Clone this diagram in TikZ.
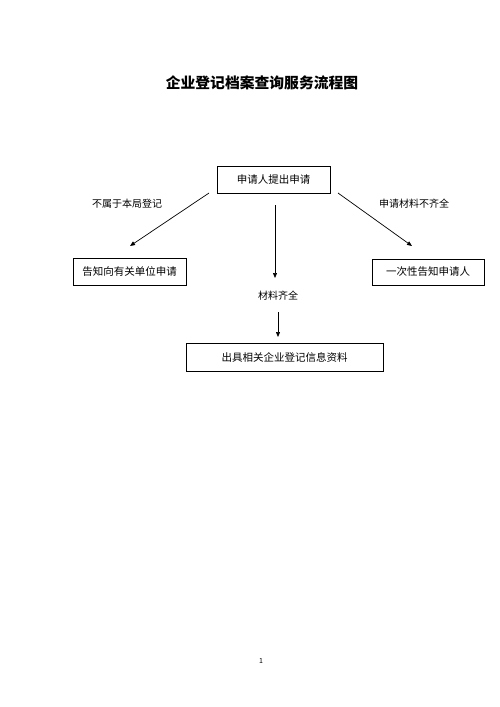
\documentclass[tikz,border=0pt]{standalone}
\usepackage{fontspec}
\setmainfont{Noto Sans CJK SC}
\newfontfamily\cjk{Noto Sans CJK SC}
\usetikzlibrary{arrows.meta}
\begin{document}
\begin{tikzpicture}[x=1pt,y=-1pt,
  box/.style={draw,line width=0.8pt,inner sep=0pt,font=\cjk\fontsize{10.5}{12}\selectfont},
  lbl/.style={inner sep=0pt,font=\cjk\fontsize{10}{12}\selectfont},
  arr/.style={line width=0.7pt,-{Triangle[length=5pt,width=4pt]}}]
\useasboundingbox[fill=white] (0,0) rectangle (500,707);
\node[inner sep=0pt,font=\cjk\bfseries\fontsize{14.8}{16}\selectfont] (title) at (262,83) {企业登记档案查询服务流程图};
\node[box,minimum width=113pt,minimum height=27pt] (t) at (273.5,180) {申请人提出申请};
\node[box,minimum width=113pt,minimum height=27pt] (l) at (129.5,271.5) {告知向有关单位申请};
\node[box,minimum width=112pt,minimum height=26pt] (r) at (428,272) {一次性告知申请人};
\node[box,minimum width=197pt,minimum height=28pt] (b) at (284.5,357) {出具相关企业登记信息资料};
\node[lbl] (ll) at (127,204) {不属于本局登记};
\node[lbl] (rl) at (414,204) {申请材料不齐全};
\node[lbl] (m) at (278,296) {材料齐全};
\node[inner sep=0pt,font=\fontsize{7}{8}\selectfont] (pg) at (261,661) {1};
\coordinate (a1s) at (209,193);
\coordinate (a1e) at (130,246);
\coordinate (a2s) at (275,205);
\coordinate (a2e) at (275,278);
\coordinate (a3s) at (338,193);
\coordinate (a3e) at (412,246);
\coordinate (a4s) at (278,312);
\coordinate (a4e) at (278,337);
\draw[arr] (a1s) -- (a1e);
\draw[arr] (a2s) -- (a2e);
\draw[arr] (a3s) -- (a3e);
\draw[arr] (a4s) -- (a4e);
\end{tikzpicture}
\end{document}
